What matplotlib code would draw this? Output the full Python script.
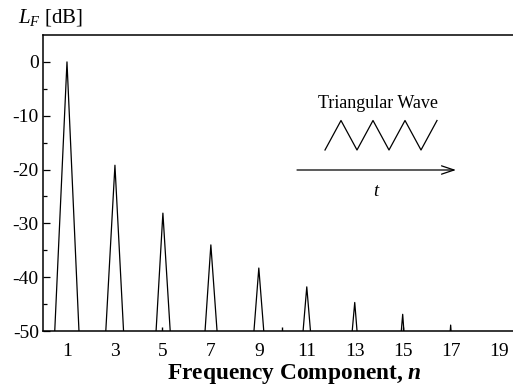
import numpy as np
import matplotlib
matplotlib.use("Agg")
import matplotlib.pyplot as plt

plt.rcParams['font.family'] = ['Liberation Serif', 'DejaVu Serif']
plt.rcParams['mathtext.fontset'] = 'custom'
plt.rcParams['mathtext.rm'] = 'Liberation Serif'
plt.rcParams['mathtext.it'] = 'Liberation Serif:italic'
plt.rcParams['mathtext.bf'] = 'Liberation Serif:bold'
plt.rcParams['mathtext.bfit'] = 'Liberation Serif:italic:bold'
plt.rcParams['axes.unicode_minus'] = False

# Spectrum sampled at integer harmonic numbers (even harmonics far below the floor)
harmonic_n = list(range(0, 21))
level_db = [-98, 0, -100, -19.2, -105, -28.1, -100, -34.0, -96, -38.3,
            -95, -41.8, -95, -44.7, -100, -46.9, -110, -48.9, -115, -51.2, -120]

# small spurious components
spur_n = [4.95, 9.97, 15.0]
spur_db = [-49.2, -49.2, -49.3]

x_ticks = [1, 3, 5, 7, 9, 11, 13, 15, 17, 19]
y_ticks = [0, -10, -20, -30, -40, -50]

W, H = 513, 389
fig = plt.figure(figsize=(W / 100, H / 100), dpi=100)
ax = fig.add_axes([43 / W, 1 - 331 / H, 1 - 43 / W, (331 - 35) / H])

ax.plot(harmonic_n, level_db, color='black', lw=0.9)
ax.vlines(spur_n, -50, spur_db, color='black', lw=1.0)

ax.set_xlim(0, 19.6)
ax.set_ylim(-50, 5)
ax.set_xticks(x_ticks)
ax.set_yticks(y_ticks)
ax.set_yticks(np.arange(-45, 5, 10), minor=True)
ax.tick_params(axis='x', length=0, pad=9, labelsize=14)
ax.tick_params(axis='y', which='major', direction='in', length=5, width=0.9,
               pad=3, labelsize=14)
ax.tick_params(axis='y', which='minor', direction='in', length=3, width=0.9)
ax.spines['right'].set_visible(False)
for s in ['left', 'bottom', 'top']:
    ax.spines[s].set_linewidth(1.1)

fig.text(18 / W, 1 - 18 / H, r'$L_F$ [dB]', fontsize=15, ha='left', va='center')
fig.text(294 / W, 1 - 374 / H, r'Frequency Component, $\mathbfit{n}$',
         fontsize=16.8, fontweight='bold', ha='center', va='center')

# Inset illustration (axes-fraction coordinates)
def fx(px):
    return (px - 43) / 470

def fy(py):
    return (331 - py) / 296

ax.text(fx(377.5), fy(103), 'Triangular Wave', transform=ax.transAxes,
        fontsize=13, ha='center', va='center')
n_seg = 7
x0, x1 = 325, 437
zx = [fx(x0 + (x1 - x0) * i / n_seg) for i in range(n_seg + 1)]
zy = [fy(150) if i % 2 == 0 else fy(120.5) for i in range(n_seg + 1)]
ax.plot(zx, zy, transform=ax.transAxes, color='black', lw=0.9)
ax.annotate('', xy=(fx(456), fy(170)), xytext=(fx(297), fy(170)),
            xycoords='axes fraction', textcoords='axes fraction',
            arrowprops=dict(arrowstyle='->,head_length=0.9,head_width=0.3',
                            color='black', lw=0.9, shrinkA=0, shrinkB=0))
ax.text(fx(377), fy(192), r'$t$', transform=ax.transAxes, fontsize=13.5,
        ha='center', va='center')

fig.savefig('out.png', dpi=100)
